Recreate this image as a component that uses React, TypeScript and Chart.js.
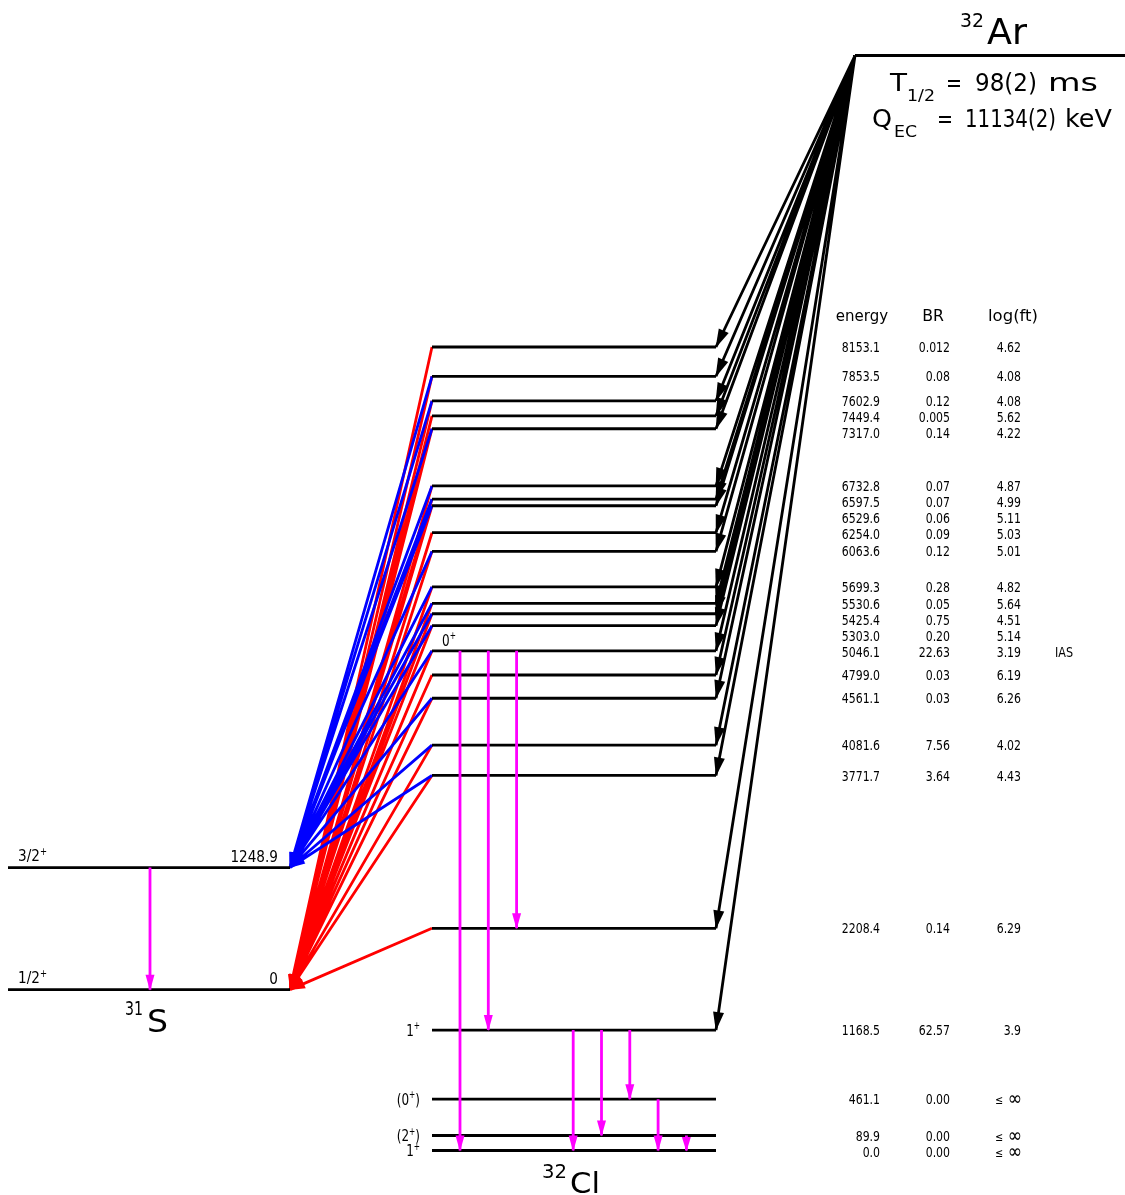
import React, { useEffect, useRef } from "react";
import { Chart, registerables } from "chart.js";
Chart.register(...registerables);

// ---------------- data ----------------
const levelEnergy = [8153.1, 7853.5, 7602.9, 7449.4, 7317.0, 6732.8, 6597.5, 6529.6, 6254.0, 6063.6, 5699.3, 5530.6, 5425.4, 5303.0, 5046.1, 4799.0, 4561.1, 4081.6, 3771.7, 2208.4, 1168.5, 461.1, 89.9, 0.0];
const branchingRatio = ["0.012", "0.08", "0.12", "0.005", "0.14", "0.07", "0.07", "0.06", "0.09", "0.12", "0.28", "0.05", "0.75", "0.20", "22.63", "0.03", "0.03", "7.56", "3.64", "0.14", "62.57", "0.00", "0.00", "0.00"];
const logFt = ["4.62", "4.08", "4.08", "5.62", "4.22", "4.87", "4.99", "5.11", "5.03", "5.01", "4.82", "5.64", "4.51", "5.14", "3.19", "6.19", "6.26", "4.02", "4.43", "6.29", "3.9", "≤ ∞", "≤ ∞", "≤ ∞"];
const spinLevels = [5046.1, 1168.5, 461.1, 89.9, 0.0];
const spinLabels = ["0+", "1+", "(0+)", "(2+)", "1+"];
const iasLevel = 5046.1;

const protonToGroundFrom = [8153.1, 7853.5, 7602.9, 7449.4, 7317.0, 6732.8, 6597.5, 6529.6, 6254.0, 6063.6, 5699.3, 5530.6, 5425.4, 5303.0, 5046.1, 4799.0, 4561.1, 4081.6, 3771.7, 2208.4];
const protonToExcitedFrom = [7853.5, 7602.9, 7317.0, 6732.8, 6597.5, 6529.6, 6063.6, 5699.3, 5530.6, 5425.4, 5303.0, 5046.1, 4561.1, 4081.6, 3771.7];

const gammaFrom = [5046.1, 5046.1, 5046.1, 1168.5, 1168.5, 1168.5, 461.1, 89.9];
const gammaTo = [0.0, 1168.5, 2208.4, 0.0, 89.9, 461.1, 0.0, 0.0];

const sulfurEnergy = [1248.9, 0];
const sulfurSpin = ["3/2+", "1/2+"];
const sulfurEnergyText = ["1248.9", "0"];
const protonSeparation = 1581.3;

const qEC = 11134;
const halfLifeText = "98(2) ms";
const qECText = "11134(2) keV";

// ---------------- layout ----------------
const W = 1125, H = 1195;
const Y_MIN = -518.5, Y_MAX = 11701.5;
const PX_PER_KEV = H / (Y_MAX - Y_MIN);
const CL_L = 432, CL_R = 716;
const S_L = 8, S_R = 290;
const AR_L = 855, AR_R = 1125;
const GAMMA_X0 = 460, GAMMA_DX = 28.3;
const S_GAMMA_X = 150;
const FONT = '"DejaVu Sans", "Liberation Sans", sans-serif';

// side-labelled levels are pushed apart (downwards) to leave room for their labels
const displayMap = new Map<number, number>();
levelEnergy.forEach((e) => displayMap.set(e, e));
{
  const gap = 15 / PX_PER_KEV;
  const sorted = [...spinLevels].sort((a, b) => b - a);
  let prev = Infinity;
  for (const e of sorted) {
    const d = Math.min(e, prev - gap);
    displayMap.set(e, d);
    prev = d;
  }
}
const dispE = (e: number) => displayMap.get(e) ?? e;

type P = { x: number; y: number | null };
const seg = (arr: P[], x1: number, y1: number, x2: number, y2: number) => {
  arr.push({ x: x1, y: y1 }, { x: x2, y: y2 }, { x: x2, y: null });
};

const clLevelPts: P[] = [];
levelEnergy.forEach((e) => seg(clLevelPts, CL_L, dispE(e), CL_R, dispE(e)));
const sLevelPts: P[] = [];
sulfurEnergy.forEach((e) => seg(sLevelPts, S_L, protonSeparation + e, S_R, protonSeparation + e));
const arLevelPts: P[] = [];
seg(arLevelPts, AR_L, qEC, AR_R, qEC);

const betaPts: P[] = [];
levelEnergy.forEach((e, i) => {
  if (parseFloat(branchingRatio[i]) > 0) seg(betaPts, AR_L, qEC, CL_R, dispE(e));
});
const redPts: P[] = [];
protonToGroundFrom.forEach((e) => seg(redPts, CL_L, dispE(e), S_R, protonSeparation + sulfurEnergy[1]));
const bluePts: P[] = [];
protonToExcitedFrom.forEach((e) => seg(bluePts, CL_L, dispE(e), S_R, protonSeparation + sulfurEnergy[0]));
const gammaPts: P[] = [];
gammaFrom.forEach((f, i) => {
  const slot = i + (f < gammaFrom[0] ? 1 : 0);
  const x = GAMMA_X0 + slot * GAMMA_DX;
  seg(gammaPts, x, dispE(f), x, dispE(gammaTo[i]));
});
seg(gammaPts, S_GAMMA_X, protonSeparation + sulfurEnergy[0], S_GAMMA_X, protonSeparation + sulfurEnergy[1]);

// ---------------- text helpers ----------------
function txt(ctx: CanvasRenderingContext2D, s: string, x: number, y: number, size: number, align: "left" | "right" | "center" = "left", sx = 1) {
  ctx.save();
  ctx.font = `${size}px ${FONT}`;
  ctx.textBaseline = "alphabetic";
  ctx.textAlign = "left";
  const w = ctx.measureText(s).width * sx;
  const x0 = align === "left" ? x : align === "right" ? x - w : x - w / 2;
  ctx.translate(x0, y);
  ctx.scale(sx, 1);
  ctx.fillText(s, 0, 0);
  ctx.restore();
  return w;
}
function fit(ctx: CanvasRenderingContext2D, s: string, x0: number, x1: number, y: number, size: number) {
  ctx.save();
  ctx.font = `${size}px ${FONT}`;
  const w = ctx.measureText(s).width;
  ctx.restore();
  txt(ctx, s, x0, y, size, "left", (x1 - x0) / w);
}
// label with superscript "+"
function spin(ctx: CanvasRenderingContext2D, s: string, x: number, yMid: number, size: number, align: "left" | "right", sx = 0.8) {
  const parts = s.split(/(\+)/).filter((p) => p.length);
  const sup = size * 0.62;
  const widths = parts.map((p) => {
    ctx.save();
    ctx.font = `${p === "+" ? sup : size}px ${FONT}`;
    const w = ctx.measureText(p).width * sx;
    ctx.restore();
    return w;
  });
  const total = widths.reduce((a, b) => a + b, 0);
  let cx = align === "left" ? x : x - total;
  const base = yMid + 0.365 * size;
  parts.forEach((p, i) => {
    if (p === "+") txt(ctx, p, cx, base - size * 0.42, sup, "left", sx);
    else txt(ctx, p, cx, base, size, "left", sx);
    cx += widths[i];
  });
}

const schemePlugin = {
  id: "scheme",
  afterDatasetDraw(chart: any, args: any) {
    const ds = chart.data.datasets[args.index];
    if (!ds.head) return;
    const { ctx } = chart;
    const xs = chart.scales.x, ys = chart.scales.y;
    const pts: P[] = ds.data;
    ctx.save();
    ctx.fillStyle = ds.borderColor;
    for (let i = 1; i < pts.length; i++) {
      const p = pts[i], q = pts[i - 1];
      if (p.y == null || q.y == null) continue;
      const isEnd = i === pts.length - 1 || pts[i + 1].y == null;
      if (!isEnd) continue;
      const X2 = xs.getPixelForValue(p.x), Y2 = ys.getPixelForValue(p.y);
      const X1 = xs.getPixelForValue(q.x), Y1 = ys.getPixelForValue(q.y);
      const dx = X2 - X1, dy = Y2 - Y1, L = Math.hypot(dx, dy);
      const ux = dx / L, uy = dy / L;
      const len = Math.min(ds.head.len, L * 0.9);
      const hw = ds.head.hw;
      const bx = X2 - ux * len, by = Y2 - uy * len;
      ctx.beginPath();
      ctx.moveTo(X2 + ux * 1, Y2 + uy * 1);
      ctx.lineTo(bx - uy * hw, by + ux * hw);
      ctx.lineTo(bx + uy * hw, by - ux * hw);
      ctx.closePath();
      ctx.fill();
    }
    ctx.restore();
  },
  afterDraw(chart: any) {
    const { ctx } = chart;
    const ys = chart.scales.y;
    const py = (e: number) => ys.getPixelForValue(e);
    ctx.save();
    ctx.fillStyle = "#000";

    // parent header
    fit(ctx, "32", 960, 984, 27, 19);
    fit(ctx, "Ar", 987, 1027, 44, 36);
    const b1 = 91;
    fit(ctx, "T", 890, 907, b1, 24);
    fit(ctx, "1/2", 907, 935, b1 + 10, 16);
    fit(ctx, "=", 946, 962, b1, 24);
    const [hlNum, hlUnit] = halfLifeText.split(" ");
    fit(ctx, hlNum, 975, 1037, b1, 24);
    fit(ctx, hlUnit, 1048, 1098, b1, 24);
    const b2 = 127;
    fit(ctx, "Q", 872, 892, b2, 25);
    fit(ctx, "EC", 894, 917, b2 + 10, 16);
    fit(ctx, "=", 937, 953, b2, 24);
    const [qNum, qUnit] = qECText.split(" ");
    fit(ctx, qNum, 965, 1056, b2, 24);
    fit(ctx, qUnit, 1065, 1112, b2, 24);

    // table
    txt(ctx, "energy", 862, 321, 15, "center", 1);
    txt(ctx, "BR", 933, 321, 15, "center", 1.05);
    txt(ctx, "log(ft)", 1013, 321, 15, "center", 1.1);
    let prev = -Infinity;
    levelEnergy.forEach((e, i) => {
      const row = Math.max(py(dispE(e)), prev + 16);
      prev = row;
      const base = row + 0.365 * 14;
      txt(ctx, e.toFixed(1), 880, base, 14, "right", 0.78);
      txt(ctx, branchingRatio[i], 950, base, 14, "right", 0.78);
      const lf = logFt[i];
      if (lf.startsWith("≤")) {
        const [le, inf] = lf.split(" ");
        txt(ctx, le, 995, base, 12, "left", 0.8);
        txt(ctx, inf, 1022, base + 1, 20, "right", 0.85);
      } else {
        txt(ctx, lf, 1021, base, 14, "right", 0.78);
      }
      if (e === iasLevel) txt(ctx, "IAS", 1055, base, 14, "left", 0.8);
    });

    // 32Cl spin labels
    spinLevels.forEach((e, i) => {
      if (e === iasLevel) spin(ctx, spinLabels[i], 442, py(dispE(e)) - 11, 16, "left", 0.75);
      else spin(ctx, spinLabels[i], 420, py(dispE(e)), 16, "right", 0.75);
    });

    // 31S labels
    sulfurEnergy.forEach((e, i) => {
      const y = py(protonSeparation + e);
      spin(ctx, sulfurSpin[i], 18, y - 12, 16, "left", 0.85);
      txt(ctx, sulfurEnergyText[i], 278, y - 6, 16, "right", 0.85);
    });
    const sY = py(protonSeparation);
    fit(ctx, "31", 125, 143, sY + 25, 19);
    fit(ctx, "S", 147, 168, sY + 42, 32);

    const clY = py(dispE(0));
    fit(ctx, "32", 542, 567, clY + 27, 19);
    fit(ctx, "Cl", 570, 600, clY + 42, 28);
    ctx.restore();
  },
};

export default function App() {
  const ref = useRef<HTMLCanvasElement>(null);
  useEffect(() => {
    document.body.style.margin = "0";
    const common = { pointRadius: 0, pointHoverRadius: 0, borderWidth: 2.8, spanGaps: false, tension: 0, fill: false, borderCapStyle: "butt" };
    const chart = new Chart(ref.current!, {
      type: "line",
      data: {
        datasets: [
          { ...common, data: gammaPts, borderColor: "#ff00ff", order: 0, head: { len: 15, hw: 4.5 } },
          { ...common, data: clLevelPts, borderColor: "#000000", order: 1 },
          { ...common, data: sLevelPts, borderColor: "#000000", order: 1 },
          { ...common, data: arLevelPts, borderColor: "#000000", order: 1 },
          { ...common, data: bluePts, borderColor: "#0000ff", order: 2, head: { len: 15, hw: 5 } },
          { ...common, data: redPts, borderColor: "#ff0000", order: 3, head: { len: 15, hw: 5 } },
          { ...common, data: betaPts, borderColor: "#000000", order: 4, head: { len: 18, hw: 5.5 } },
        ] as any,
      },
      options: {
        animation: false,
        responsive: false,
        devicePixelRatio: 1,
        layout: { padding: 0 },
        events: [],
        plugins: { legend: { display: false }, tooltip: { enabled: false } },
        scales: {
          x: { type: "linear", min: 0, max: W, display: false },
          y: { type: "linear", min: Y_MIN, max: Y_MAX, display: false },
        },
      } as any,
      plugins: [schemePlugin as any],
    });
    return () => chart.destroy();
  }, []);
  return <canvas ref={ref} width={W} height={H} style={{ display: "block" }} />;
}
